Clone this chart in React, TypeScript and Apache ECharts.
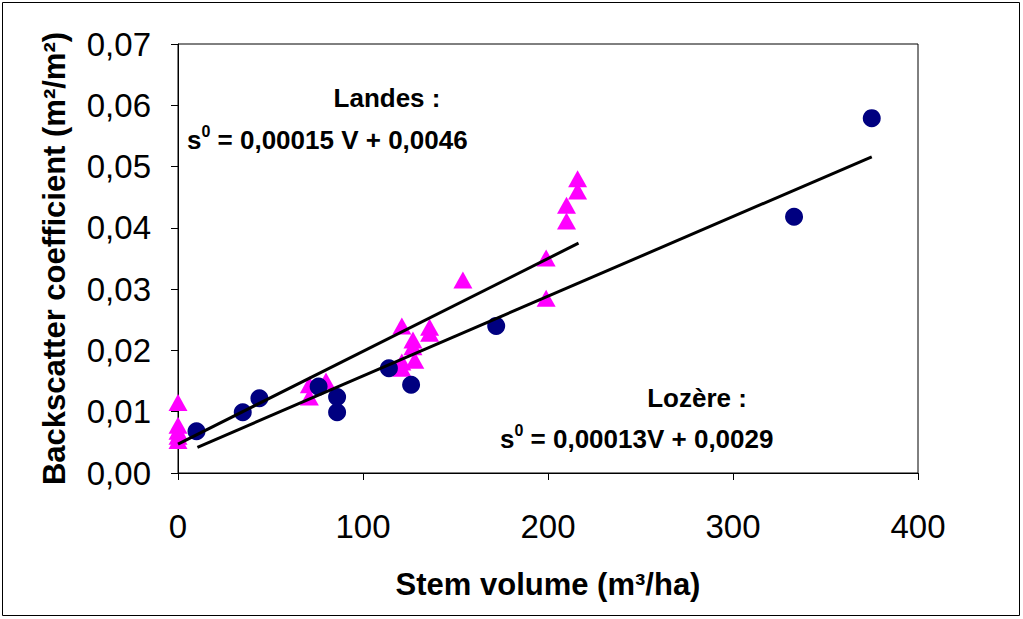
import React, { useEffect, useRef } from 'react';
import * as echarts from 'echarts';

// Lozère stands (circles)
const lozereX = [10, 35, 44, 76, 86, 86, 114, 126, 172, 333, 375];
const lozereY = [0.0068, 0.0099, 0.0122, 0.0141, 0.0124, 0.0099, 0.0171, 0.0144, 0.024, 0.0418, 0.0579];

// Landes stands (triangles)
const landesX = [0, 0, 0, 0, 0, 71, 71, 80, 121, 136, 136, 127, 127, 128, 121, 121, 154, 199, 199, 210, 210, 216, 216];
const landesY = [0.0115, 0.0078, 0.0068, 0.006, 0.0053, 0.0144, 0.0124, 0.015, 0.024, 0.0238, 0.0228, 0.0217, 0.0206, 0.0184, 0.0181, 0.0171, 0.0315, 0.0351, 0.0285, 0.0437, 0.0411, 0.048, 0.046];

// Regression line end points
const landesFitX = [0, 216.5];
const landesFitY = [0.0047, 0.0375];
const lozereFitX = [10.5, 375];
const lozereFitY = [0.0042, 0.0516];

const xMin = 0, xMax = 400, xStep = 100;
const yMin = 0, yMax = 0.07, yStep = 0.01;

const FONT = "'Liberation Sans', Arial, sans-serif";

export default function App() {
  const ref = useRef<HTMLDivElement>(null);
  useEffect(() => {
    if (!ref.current) return;
    const chart = echarts.init(ref.current, null, { renderer: 'svg' });
    const zip = (xs: number[], ys: number[]) => xs.map((x, i) => [x, ys[i]]);
    const eqRich = {
      a: { fontSize: 26, fontWeight: 'bold', fontFamily: FONT, color: '#000', lineHeight: 30, verticalAlign: 'bottom' },
      sup: { fontSize: 16, fontWeight: 'bold', fontFamily: FONT, color: '#000', lineHeight: 16, verticalAlign: 'top' },
    };
    chart.setOption({
      animation: false,
      backgroundColor: '#fff',
      grid: { left: 178, top: 44, right: 105, bottom: 146, show: true, borderColor: '#000', borderWidth: 1 },
      xAxis: {
        type: 'value', min: xMin, max: xMax, interval: xStep,
        axisLine: { show: true, lineStyle: { color: '#000', width: 1 } },
        axisTick: { show: true, inside: false, length: 7, lineStyle: { color: '#000' } },
        splitLine: { show: false },
        axisLabel: { color: '#000', fontSize: 33, fontFamily: FONT, margin: 37 },
        name: 'Stem volume (m³/ha)', nameLocation: 'middle', nameGap: 96,
        nameTextStyle: { color: '#000', fontSize: 31, fontWeight: 'bold', fontFamily: FONT },
      },
      yAxis: {
        type: 'value', min: yMin, max: yMax, interval: yStep,
        axisLine: { show: true, lineStyle: { color: '#000', width: 1 } },
        axisTick: { show: true, inside: false, length: 7, lineStyle: { color: '#000' } },
        splitLine: { show: false },
        axisLabel: { color: '#000', fontSize: 33, fontFamily: FONT, margin: 27, formatter: (v: number) => v.toFixed(2).replace('.', ',') },
        name: 'Backscatter coefficient (m²/m²)', nameLocation: 'middle', nameGap: 108, nameRotate: 90,
        nameTextStyle: { color: '#000', fontSize: 31, fontWeight: 'bold', fontFamily: FONT },
      },
      series: [
        { type: 'scatter', name: 'Landes', data: zip(landesX, landesY), symbol: 'triangle', symbolSize: [19, 17], itemStyle: { color: '#FF00FF', opacity: 1 }, z: 2 },
        { type: 'scatter', name: 'Lozère', data: zip(lozereX, lozereY), symbol: 'circle', symbolSize: 18, itemStyle: { color: '#000080', opacity: 1 }, z: 3 },
        { type: 'line', data: zip(landesFitX, landesFitY), symbol: 'none', lineStyle: { color: '#000', width: 3 }, z: 4 },
        { type: 'line', data: zip(lozereFitX, lozereFitY), symbol: 'none', lineStyle: { color: '#000', width: 3 }, z: 4 },
      ],
      graphic: [
        { type: 'rect', shape: { x: 2.5, y: 2.5, width: 1017, height: 613 }, style: { fill: 'none', stroke: '#000', lineWidth: 1 }, silent: true },
        { type: 'text', x: 387, y: 98, style: { text: 'Landes :', font: `bold 26px ${FONT}`, fill: '#000', align: 'center', verticalAlign: 'middle' } },
        { type: 'text', x: 187, y: 138, style: { text: '{a|s}{sup|0}{a| = 0,00015 V + 0,0046}', rich: eqRich, align: 'left', verticalAlign: 'middle' } },
        { type: 'text', x: 697, y: 398, style: { text: 'Lozère :', font: `bold 26px ${FONT}`, fill: '#000', align: 'center', verticalAlign: 'middle' } },
        { type: 'text', x: 500, y: 437, style: { text: '{a|s}{sup|0}{a| = 0,00013V + 0,0029}', rich: eqRich, align: 'left', verticalAlign: 'middle' } },
      ],
    });
    return () => chart.dispose();
  }, []);
  return <div ref={ref} style={{ position: 'fixed', left: 0, top: 0, width: 1023, height: 619 }} />;
}
